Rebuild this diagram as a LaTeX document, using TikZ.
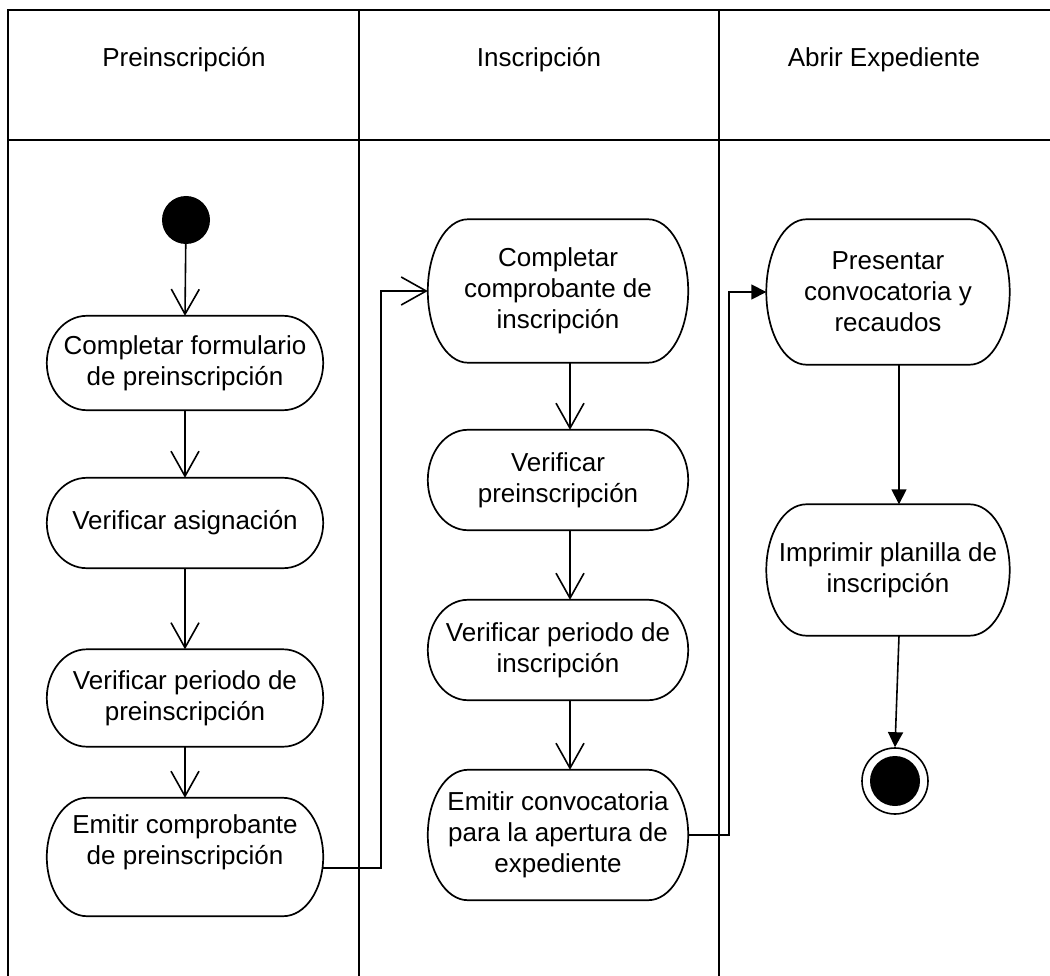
\documentclass[tikz,border=0pt]{standalone}
\usepackage{fontspec}
\setmainfont{Liberation Sans}
\usetikzlibrary{arrows.meta,calc}
\begin{document}
\begin{tikzpicture}[x=1pt,y=1pt,
  lane/.style={line width=2pt},
  txt/.style={font=\fontsize{26pt}{31pt}\selectfont},
  act/.style={txt, rectangle, inner sep=0pt, align=center},
  actline/.style={line width=1.7pt},
  flow/.style={line width=1.6pt, -{Straight Barb[length=25pt,width=28pt]}},
  flowf/.style={line width=1.6pt, -{Triangle[length=15pt,width=15pt]}}]
\useasboundingbox (0,0) rectangle (1050,-976);

% swimlanes
\draw[lane] (8,-976) -- (8,-10) -- (1050,-10);
\draw[lane] (8,-140) -- (1050,-140);
\draw[lane] (359,-10) -- (359,-976);
\draw[lane] (719,-10) -- (719,-976);
\node[txt] (h1) at (184,-60) {Preinscripción};
\node[txt] (h2) at (539,-60) {Inscripción};
\node[txt] (h3) at (884,-60) {Abrir Expediente};

% start and end states
\node[circle, fill=black, minimum size=48pt, inner sep=0pt] (s) at (186,-220) {};
\node[circle, draw, line width=1.6pt, minimum size=66pt, inner sep=0pt,
      path picture={\fill (path picture bounding box.center) circle (25pt);}] (fin) at (895,-781) {};

% actions: lane 1
\node[act, minimum width=276pt, minimum height=94pt]  (a) at (185,-363) {Completar formulario\\de preinscripción};
\node[act, minimum width=276pt, minimum height=90pt]  (b) at (185,-523) {Verificar asignación};
\node[act, minimum width=276pt, minimum height=97pt]  (c) at (185,-698) {Verificar periodo de\\preinscripción};
\node[act, minimum width=276pt, minimum height=88pt]  (d) at (185,-842) {Emitir comprobante\\de preinscripción};
% actions: lane 2
\node[act, minimum width=260pt, minimum height=143pt] (e) at (558,-291) {Completar\\comprobante de\\inscripción};
\node[act, minimum width=260pt, minimum height=100pt] (f) at (558,-480) {Verificar\\preinscripción};
\node[act, minimum width=260pt, minimum height=100pt] (g) at (558,-650) {Verificar periodo de\\inscripción};
\node[act, minimum width=260pt, minimum height=130pt] (h) at (558,-835) {Emitir convocatoria\\para la apertura de\\expediente};
% actions: lane 3
\node[act, minimum width=243pt, minimum height=145pt] (i) at (888,-292) {Presentar\\convocatoria y\\recaudos};
\node[act, minimum width=243pt, minimum height=131pt] (j) at (888,-570) {Imprimir planilla de\\inscripción};

% rounded action outlines with elliptic ends; \e extends the outline below the text block
\foreach \k/\e in {a/0,b/0,c/0,d/30,e/0,f/0,g/0,h/0,i/0,j/0}{
  \draw[actline] let \p1=(\k.north east), \p2=([yshift=-\e pt]\k.south west), \n1={(\y1-\y2)/2} in
    (\x2+40pt,\y1) -- (\x1-40pt,\y1)
    arc[start angle=90, end angle=-90, x radius=40pt, y radius={\n1*1pt}]
    -- (\x2+40pt,\y2)
    arc[start angle=270, end angle=90, x radius=40pt, y radius={\n1*1pt}] -- cycle;
}

% control flow
\draw[flow] (s) -- (a.north);
\draw[flow] (a) -- (b);
\draw[flow] (b) -- (c);
\draw[flow] (c) -- (d);
\draw[flow] ([yshift=-26pt]d.east) -- ++(58,0) |- (e.west);
\draw[flow] ([xshift=12pt]e.south) -- ([xshift=12pt]f.north);
\draw[flow] ([xshift=12pt]f.south) -- ([xshift=12pt]g.north);
\draw[flow] ([xshift=12pt]g.south) -- ([xshift=12pt]h.north);
\draw[flowf] (h.east) -- ++(41,0) |- (i.west);
\draw[flowf] ([xshift=11pt]i.south) -- ([xshift=11pt]j.north);
\draw[flowf] ([xshift=11pt]j.south) -- (fin.north);
\end{tikzpicture}
\end{document}
